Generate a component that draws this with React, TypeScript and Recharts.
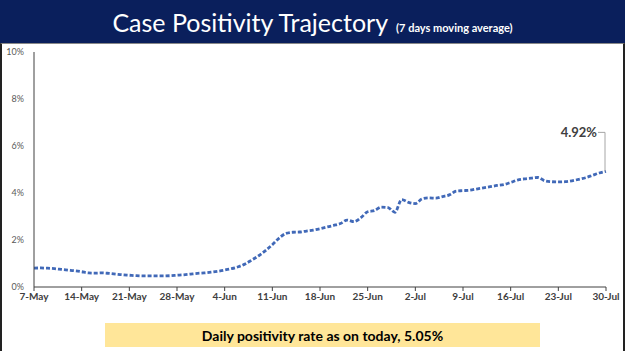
import { LineChart, Line, XAxis, YAxis } from 'recharts'

// days since 7-May, one value per day (7-day moving average, %)
const positivity = [
  0.8, 0.81, 0.8, 0.78, 0.75, 0.72, 0.69, 0.65, 0.6, 0.59, 0.6, 0.58, 0.55,
  0.52, 0.5, 0.48, 0.47, 0.47, 0.47, 0.47, 0.48, 0.5, 0.52, 0.55, 0.58, 0.6,
  0.63, 0.67, 0.72, 0.78, 0.86, 0.98, 1.15, 1.33, 1.55, 1.8, 2.08, 2.28, 2.33,
  2.34, 2.38, 2.42, 2.48, 2.55, 2.62, 2.7, 2.85, 2.78, 2.95, 3.2, 3.25, 3.4,
  3.38, 3.18, 3.72, 3.6, 3.55, 3.75, 3.79, 3.78, 3.85, 3.92, 4.08, 4.1, 4.12,
  4.17, 4.22, 4.27, 4.32, 4.36, 4.45, 4.55, 4.6, 4.63, 4.66, 4.52, 4.48, 4.47,
  4.48, 4.52, 4.58, 4.65, 4.75, 4.85, 4.92,
]

const tickDays = [0, 7, 14, 21, 28, 35, 42, 49, 56, 63, 70, 77, 84]
const tickLabels = [
  '7-May',
  '14-May',
  '21-May',
  '28-May',
  '4-Jun',
  '11-Jun',
  '18-Jun',
  '25-Jun',
  '2-Jul',
  '9-Jul',
  '16-Jul',
  '23-Jul',
  '30-Jul',
]
const yTicks = [0, 2, 4, 6, 8, 10]

const data = positivity.map((value, day) => ({ day, value }))

const LastLabel = (props: any) => {
  const { x, y, index, value } = props
  if (index !== positivity.length - 1) return null
  const ly = y - 39
  return (
    <g>
      <polyline
        points={`${x - 8},${ly} ${x - 1},${ly} ${x - 1},${y}`}
        fill='none'
        stroke='#a6a6a6'
        strokeWidth={1}
      />
      <text
        x={x - 9}
        y={ly}
        dy='0.35em'
        textAnchor='end'
        fontSize={13}
        fontWeight={700}
        fill='#404040'
      >
        {value.toFixed(2)}%
      </text>
    </g>
  )
}

export default function App() {
  return (
    <div
      style={{
        position: 'absolute',
        left: 0,
        top: 0,
        width: 625,
        height: 351,
        background: '#fff',
        fontFamily: 'Lato, sans-serif',
        overflow: 'hidden',
      }}
    >
      <div
        style={{
          height: 43,
          background: '#0a1f5c',
          color: '#fff',
          display: 'flex',
          alignItems: 'baseline',
          justifyContent: 'center',
          paddingTop: 7,
          boxSizing: 'border-box',
        }}
      >
        <span style={{ fontSize: 25 }}>Case Positivity Trajectory</span>
        <span style={{ fontSize: 11, fontWeight: 700, marginLeft: 8 }}>
          (7 days moving average)
        </span>
      </div>
      <div
        style={{
          position: 'absolute',
          top: 43,
          left: 0,
          width: 625,
          height: 308,
          borderTop: '1px solid #888',
          borderLeft: '2px solid #222',
          borderRight: '2px solid #222',
          boxSizing: 'border-box',
        }}
      />
      <div style={{ position: 'absolute', top: 43, left: 0 }}>
        <LineChart
          width={625}
          height={270}
          data={data}
          margin={{ top: 9, right: 19, bottom: 6, left: 0 }}
        >
          <XAxis
            dataKey='day'
            type='number'
            domain={[0, 84]}
            ticks={tickDays}
            tickFormatter={(d: number) => tickLabels[tickDays.indexOf(d)]}
            height={20}
            tickSize={4}
            axisLine={{ stroke: '#404040' }}
            tickLine={{ stroke: '#404040' }}
            tick={{ fontSize: 10, fontWeight: 700, fill: '#404040' }}
            interval={0}
          />
          <YAxis
            domain={[0, 10]}
            ticks={yTicks}
            tickFormatter={(v: number) => `${v}%`}
            width={34}
            tickSize={4}
            axisLine={{ stroke: '#404040' }}
            tickLine={false}
            tick={{ fontSize: 9, fill: '#595959', dx: -4 }}
          />
          <Line
            type='monotone'
            dataKey='value'
            stroke='#4169b8'
            strokeWidth={2.8}
            strokeDasharray='4 2'
            dot={false}
            isAnimationActive={false}
            label={<LastLabel />}
          />
        </LineChart>
      </div>
      <div
        style={{
          position: 'absolute',
          left: 105,
          top: 323,
          width: 435,
          height: 24,
          background: '#ffe699',
          display: 'flex',
          alignItems: 'center',
          justifyContent: 'center',
          fontSize: 14,
          fontWeight: 700,
          color: '#000',
        }}
      >
        Daily positivity rate as on today, 5.05%
      </div>
    </div>
  )
}
